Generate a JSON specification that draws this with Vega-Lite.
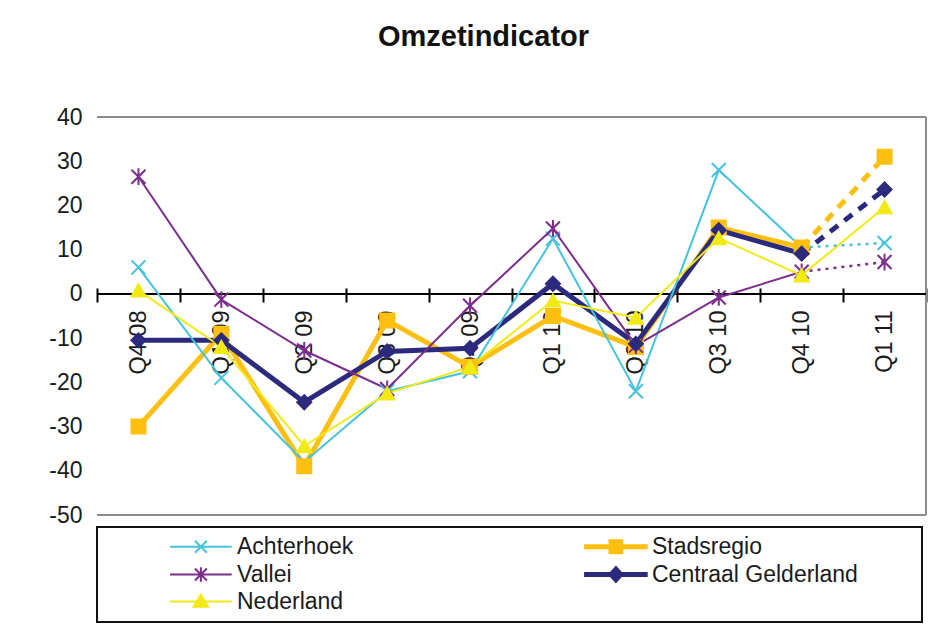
{
  "$schema": "https://vega.github.io/schema/vega-lite/v6.json",
  "width": 829,
  "height": 398,
  "autosize": {"type": "none"},
  "padding": {"left": 97, "top": 117, "right": 17, "bottom": 120},
  "background": "white",
  "title": {"text": "Omzetindicator", "font": "Liberation Sans", "fontSize": 29, "fontWeight": "bold", "color": "#111111", "anchor": "middle", "frame": "group", "baseline": "alphabetic", "offset": 31, "dx": -28},
  "datasets": {
    "omzet": [
      {"q": "Q4 08", "s": "Achterhoek", "v": 6},
      {"q": "Q1 09", "s": "Achterhoek", "v": -19},
      {"q": "Q2 09", "s": "Achterhoek", "v": -38},
      {"q": "Q3 09", "s": "Achterhoek", "v": -22},
      {"q": "Q4 09", "s": "Achterhoek", "v": -17.5},
      {"q": "Q1 10", "s": "Achterhoek", "v": 12.5},
      {"q": "Q2 10", "s": "Achterhoek", "v": -22},
      {"q": "Q3 10", "s": "Achterhoek", "v": 28},
      {"q": "Q4 10", "s": "Achterhoek", "v": 10.5},
      {"q": "Q1 11", "s": "Achterhoek", "v": 11.5},
      {"q": "Q4 08", "s": "Stadsregio", "v": -30},
      {"q": "Q1 09", "s": "Stadsregio", "v": -9},
      {"q": "Q2 09", "s": "Stadsregio", "v": -39},
      {"q": "Q3 09", "s": "Stadsregio", "v": -6},
      {"q": "Q4 09", "s": "Stadsregio", "v": -16.5},
      {"q": "Q1 10", "s": "Stadsregio", "v": -5},
      {"q": "Q2 10", "s": "Stadsregio", "v": -12},
      {"q": "Q3 10", "s": "Stadsregio", "v": 15},
      {"q": "Q4 10", "s": "Stadsregio", "v": 10.5},
      {"q": "Q1 11", "s": "Stadsregio", "v": 31},
      {"q": "Q4 08", "s": "Vallei", "v": 26.5},
      {"q": "Q1 09", "s": "Vallei", "v": -1.3},
      {"q": "Q2 09", "s": "Vallei", "v": -12.8},
      {"q": "Q3 09", "s": "Vallei", "v": -21.5},
      {"q": "Q4 09", "s": "Vallei", "v": -2.7},
      {"q": "Q1 10", "s": "Vallei", "v": 14.8},
      {"q": "Q2 10", "s": "Vallei", "v": -11.7},
      {"q": "Q3 10", "s": "Vallei", "v": -0.8},
      {"q": "Q4 10", "s": "Vallei", "v": 5},
      {"q": "Q1 11", "s": "Vallei", "v": 7.2},
      {"q": "Q4 08", "s": "Centraal Gelderland", "v": -10.5},
      {"q": "Q1 09", "s": "Centraal Gelderland", "v": -10.5},
      {"q": "Q2 09", "s": "Centraal Gelderland", "v": -24.5},
      {"q": "Q3 09", "s": "Centraal Gelderland", "v": -13},
      {"q": "Q4 09", "s": "Centraal Gelderland", "v": -12.3},
      {"q": "Q1 10", "s": "Centraal Gelderland", "v": 2.3},
      {"q": "Q2 10", "s": "Centraal Gelderland", "v": -11.3},
      {"q": "Q3 10", "s": "Centraal Gelderland", "v": 14.4},
      {"q": "Q4 10", "s": "Centraal Gelderland", "v": 9.1},
      {"q": "Q1 11", "s": "Centraal Gelderland", "v": 23.6},
      {"q": "Q4 08", "s": "Nederland", "v": 0.8},
      {"q": "Q1 09", "s": "Nederland", "v": -12},
      {"q": "Q2 09", "s": "Nederland", "v": -34.4},
      {"q": "Q3 09", "s": "Nederland", "v": -22.5},
      {"q": "Q4 09", "s": "Nederland", "v": -16.5},
      {"q": "Q1 10", "s": "Nederland", "v": -1.5},
      {"q": "Q2 10", "s": "Nederland", "v": -5.4},
      {"q": "Q3 10", "s": "Nederland", "v": 12.6},
      {"q": "Q4 10", "s": "Nederland", "v": 4.2},
      {"q": "Q1 11", "s": "Nederland", "v": 19.6}
    ]
  },
  "data": {"name": "omzet"},
  "resolve": {"legend": {"color": "independent", "shape": "independent", "stroke": "independent"}},
  "config": {
    "view": {"stroke": null},
    "font": "Liberation Sans",
    "axisY": {"domain": false, "ticks": false, "grid": false, "labelFont": "Liberation Sans", "labelFontSize": 23, "labelColor": "#1a1a1a", "labelPadding": 15, "tickCount": 10, "labelExpr": "'' + datum.value"},
    "axisX": {"domain": false, "grid": false, "tickBand": "extent", "tickSize": 14, "tickWidth": 2, "tickColor": "#000000", "labelAngle": 270, "labelFont": "Liberation Sans", "labelFontSize": 23.5, "labelColor": "#1a1a1a", "labelPadding": 8, "offset": -227}
  },
  "layer": [
    {
      "data": {"values": [{}]},
      "mark": {"type": "rule", "color": "#8c8c8c", "strokeWidth": 2},
      "encoding": {"y": {"datum": 40, "type": "quantitative", "scale": {"domain": [-50, 40], "nice": false, "zero": false}, "axis": {"title": null}}}
    },
    {
      "data": {"values": [{}]},
      "mark": {"type": "rule", "color": "#8c8c8c", "strokeWidth": 2},
      "encoding": {"y": {"datum": -50, "type": "quantitative", "axis": {"title": null}}}
    },
    {
      "data": {"values": [{}]},
      "mark": {"type": "rule", "color": "#8c8c8c", "strokeWidth": 2},
      "encoding": {"x": {"value": "width"}, "y": {"datum": 40, "type": "quantitative", "axis": {"title": null}}, "y2": {"datum": -50}}
    },
    {
      "data": {"values": [{}]},
      "mark": {"type": "rule", "color": "#000000", "strokeWidth": 2},
      "encoding": {"y": {"datum": 0, "type": "quantitative", "axis": {"title": null}}}
    },
    {
      "transform": [{"filter": "(datum.s === 'Stadsregio' || datum.s === 'Centraal Gelderland') && datum.q !== 'Q1 11'"}],
      "mark": {"type": "line", "strokeWidth": 5},
      "encoding": {
        "x": {"field": "q", "type": "nominal", "sort": ["Q4 08", "Q1 09", "Q2 09", "Q3 09", "Q4 09", "Q1 10", "Q2 10", "Q3 10", "Q4 10", "Q1 11"], "scale": {"type": "band", "paddingInner": 0, "paddingOuter": 0}, "axis": {"title": null}},
        "y": {"field": "v", "type": "quantitative", "scale": {"domain": [-50, 40], "nice": false, "zero": false}, "axis": {"title": null}},
        "color": {"field": "s", "type": "nominal", "scale": {"domain": ["Achterhoek", "Stadsregio", "Vallei", "Centraal Gelderland", "Nederland"], "range": ["#46c3dc", "#fdc012", "#7b2e8c", "#2c2a7d", "#f2ea14"]}, "legend": null}
      }
    },
    {
      "transform": [{"filter": "(datum.s === 'Stadsregio' || datum.s === 'Centraal Gelderland') && (datum.q === 'Q4 10' || datum.q === 'Q1 11')"}],
      "mark": {"type": "line", "strokeWidth": 5, "strokeDash": [10, 8]},
      "encoding": {
        "x": {"field": "q", "type": "nominal", "sort": ["Q4 08", "Q1 09", "Q2 09", "Q3 09", "Q4 09", "Q1 10", "Q2 10", "Q3 10", "Q4 10", "Q1 11"], "axis": {"title": null}},
        "y": {"field": "v", "type": "quantitative", "axis": {"title": null}},
        "color": {"field": "s", "type": "nominal", "scale": {"domain": ["Achterhoek", "Stadsregio", "Vallei", "Centraal Gelderland", "Nederland"], "range": ["#46c3dc", "#fdc012", "#7b2e8c", "#2c2a7d", "#f2ea14"]}, "legend": null}
      }
    },
    {
      "transform": [{"filter": "((datum.s === 'Achterhoek' || datum.s === 'Vallei') && datum.q !== 'Q1 11') || datum.s === 'Nederland'"}],
      "mark": {"type": "line", "strokeWidth": 2},
      "encoding": {
        "x": {"field": "q", "type": "nominal", "sort": ["Q4 08", "Q1 09", "Q2 09", "Q3 09", "Q4 09", "Q1 10", "Q2 10", "Q3 10", "Q4 10", "Q1 11"], "axis": {"title": null}},
        "y": {"field": "v", "type": "quantitative", "axis": {"title": null}},
        "color": {
          "field": "s", "type": "nominal",
          "scale": {"domain": ["Achterhoek", "Stadsregio", "Vallei", "Centraal Gelderland", "Nederland"], "range": ["#46c3dc", "#fdc012", "#7b2e8c", "#2c2a7d", "#f2ea14"]},
          "legend": {
            "title": null,
            "orient": "none",
            "legendX": 0,
            "legendY": 410,
            "direction": "horizontal",
            "columns": 2,
            "columnPadding": 166,
            "rowPadding": 3,
            "padding": 8,
            "labelFont": "Liberation Sans",
            "labelFontSize": 23,
            "labelColor": "#1a1a1a",
            "labelLimit": 0,
            "labelOffset": 109,
            "symbolSize": 256,
            "symbolStrokeWidth": 2,
            "strokeColor": "#111111",
            "encode": {
              "legend": {"update": {"stroke": {"value": "#111111"}, "strokeWidth": {"value": 2}}},
              "symbols": {"update": {
                "shape": {"signal": "datum.value === 'Achterhoek' ? 'M6.7,0H14.4M9.8,-0.75L11.3,0.75M9.8,0.75L11.3,-0.75' : datum.value === 'Vallei' ? 'M6.7,0H14.4M9.8,-0.75L11.3,0.75M9.8,0.75L11.3,-0.75M10.55,-0.9V0.9' : datum.value === 'Nederland' ? 'M6.7,0H14.4M10.55,-0.85L11.45,0.65L9.65,0.65Z' : datum.value === 'Stadsregio' ? 'M6.7,-0.2H14.4V0.2H6.7ZM9.75,-0.8H11.35V0.8H9.75ZM47.3,0' : 'M6.7,-0.2H14.4V0.2H6.7ZM10.55,-0.95L11.4,0L10.55,0.95L9.7,0ZM47.3,0'"},
                "fill": {"signal": "scale('color', datum.value)"},
                "stroke": {"signal": "scale('color', datum.value)"},
                "strokeWidth": {"value": 2},
                "opacity": {"value": 1}
              }}
            }
          }
        }
      }
    },
    {
      "transform": [{"filter": "(datum.s === 'Achterhoek' || datum.s === 'Vallei') && (datum.q === 'Q4 10' || datum.q === 'Q1 11')"}],
      "mark": {"type": "line", "strokeWidth": 2.5, "strokeDash": [3, 5]},
      "encoding": {
        "x": {"field": "q", "type": "nominal", "sort": ["Q4 08", "Q1 09", "Q2 09", "Q3 09", "Q4 09", "Q1 10", "Q2 10", "Q3 10", "Q4 10", "Q1 11"], "axis": {"title": null}},
        "y": {"field": "v", "type": "quantitative", "axis": {"title": null}},
        "color": {"field": "s", "type": "nominal", "scale": {"domain": ["Achterhoek", "Stadsregio", "Vallei", "Centraal Gelderland", "Nederland"], "range": ["#46c3dc", "#fdc012", "#7b2e8c", "#2c2a7d", "#f2ea14"]}, "legend": null}
      }
    },
    {
      "mark": {"type": "point", "filled": true, "size": 196, "strokeWidth": 2, "opacity": 1},
      "encoding": {
        "x": {"field": "q", "type": "nominal", "sort": ["Q4 08", "Q1 09", "Q2 09", "Q3 09", "Q4 09", "Q1 10", "Q2 10", "Q3 10", "Q4 10", "Q1 11"], "axis": {"title": null}},
        "y": {"field": "v", "type": "quantitative", "axis": {"title": null}},
        "color": {"field": "s", "type": "nominal", "scale": {"domain": ["Achterhoek", "Stadsregio", "Vallei", "Centraal Gelderland", "Nederland"], "range": ["#46c3dc", "#fdc012", "#7b2e8c", "#2c2a7d", "#f2ea14"]}, "legend": null},
        "stroke": {"field": "s", "type": "nominal", "scale": {"domain": ["Achterhoek", "Stadsregio", "Vallei", "Centraal Gelderland", "Nederland"], "range": ["#46c3dc", "#fdc012", "#7b2e8c", "#2c2a7d", "#f2ea14"]}, "legend": null},
        "shape": {"field": "s", "type": "nominal", "scale": {"domain": ["Achterhoek", "Stadsregio", "Vallei", "Centraal Gelderland", "Nederland"], "range": ["M-1,-1L1,1M-1,1L1,-1", "square", "M-1,-1L1,1M-1,1L1,-1M0,-1.2V1.2", "diamond", "triangle-up"]}, "legend": null}
      }
    }
  ]
}
